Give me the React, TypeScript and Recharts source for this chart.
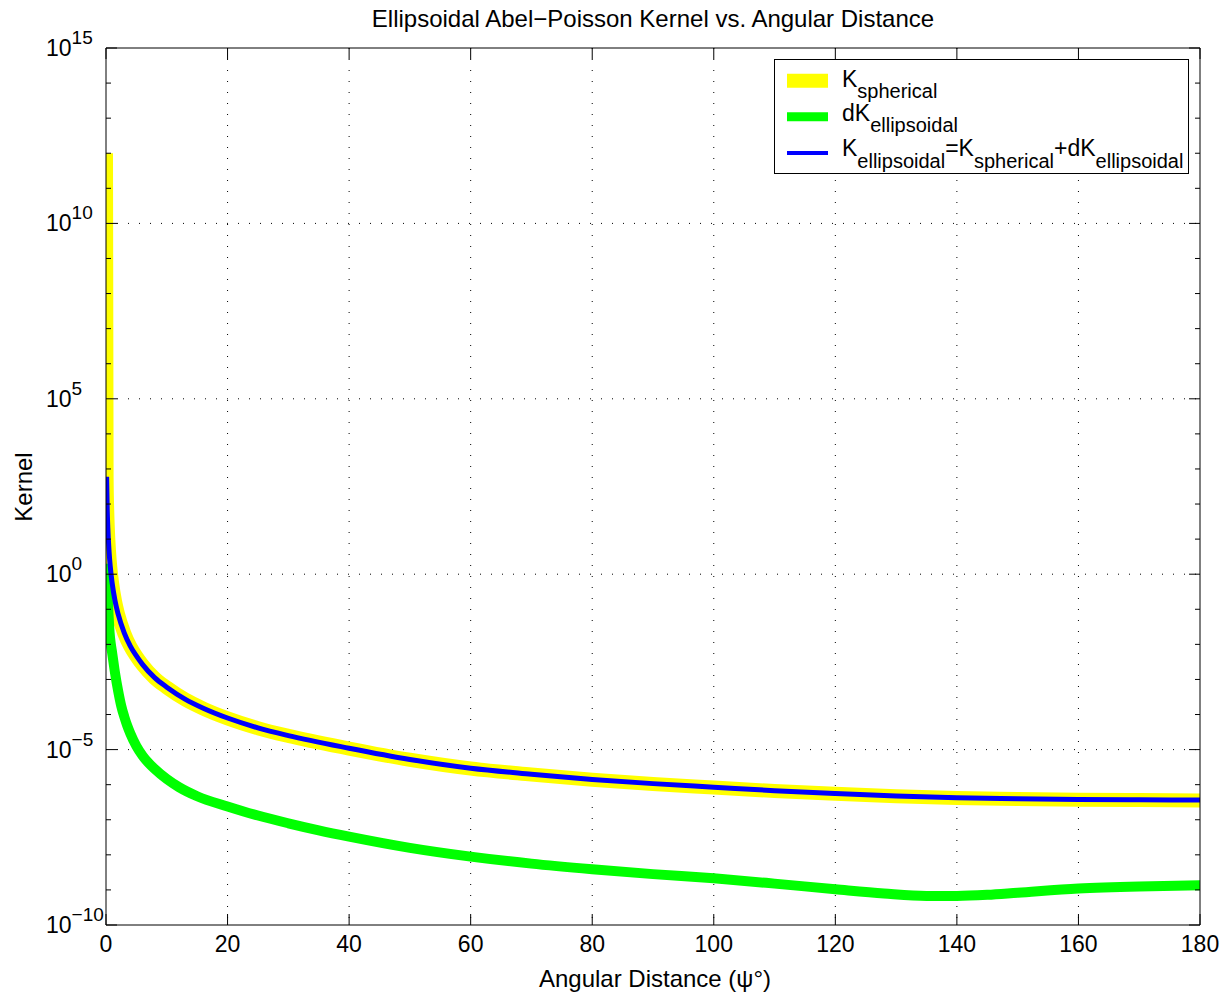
import React from 'react';
import { LineChart, Line, XAxis, YAxis, CartesianGrid, Legend } from 'recharts';

// angular distance in degrees, kernel values given as powers of ten
const sphericalAngles = [0, 0.1, 0.2, 0.3, 0.5, 0.7, 1, 1.5, 2, 3, 4, 5, 6, 8, 10, 13, 16, 20, 25, 30, 40, 50, 60, 70, 80, 90, 100, 110, 120, 130, 140, 150, 160, 170, 180];
const sphericalExponents = [12, 2.75, 1.83, 1.31, 0.65, 0.21, -0.25, -0.78, -1.15, -1.68, -2.06, -2.34, -2.58, -2.96, -3.23, -3.57, -3.83, -4.11, -4.39, -4.61, -4.97, -5.29, -5.54, -5.71, -5.86, -5.98, -6.08, -6.18, -6.26, -6.33, -6.38, -6.41, -6.43, -6.44, -6.45];

const deltaAngles = [0.1, 0.2, 0.3, 0.45, 0.6, 0.8, 1, 1.5, 2, 2.5, 3, 3.5, 4, 5, 6, 7, 8, 10, 12, 15, 20, 25, 30, 35, 40, 50, 60, 70, 80, 90, 100, 110, 120, 128, 135, 140, 145, 150, 160, 170, 180];
const deltaExponents = [0.3, -0.3, -0.75, -1.25, -1.69, -2.0, -2.23, -2.83, -3.33, -3.75, -4.06, -4.32, -4.54, -4.9, -5.17, -5.38, -5.55, -5.84, -6.07, -6.33, -6.62, -6.88, -7.1, -7.3, -7.48, -7.8, -8.05, -8.25, -8.41, -8.55, -8.67, -8.82, -8.98, -9.1, -9.17, -9.17, -9.14, -9.08, -8.96, -8.9, -8.87];

const ellipsoidalAngles = [0.1, 0.2, 0.3, 0.5, 0.7, 1, 1.5, 2, 3, 4, 5, 6, 8, 10, 13, 16, 20, 25, 30, 40, 50, 60, 70, 80, 90, 100, 110, 120, 130, 140, 150, 160, 170, 180];
const ellipsoidalExponents = [2.78, 1.85, 1.33, 0.66, 0.22, -0.24, -0.77, -1.14, -1.67, -2.05, -2.33, -2.57, -2.95, -3.22, -3.56, -3.82, -4.1, -4.38, -4.6, -4.96, -5.28, -5.53, -5.7, -5.85, -5.97, -6.07, -6.17, -6.25, -6.32, -6.37, -6.4, -6.42, -6.43, -6.44];

const xTicks = [0, 20, 40, 60, 80, 100, 120, 140, 160, 180];
const xGridValues = [20, 40, 60, 80, 100, 120, 140, 160];
const yDecadeExponents = [-10, -9, -8, -7, -6, -5, -4, -3, -2, -1, 0, 1, 2, 3, 4, 5, 6, 7, 8, 9, 10, 11, 12, 13, 14, 15];
const yLabelledExponents = [-10, -5, 0, 5, 10, 15];
const yGridExponents = [-5, 0, 5, 10];

const legendLabels: [string, boolean][][] = [
  [['K', false], ['spherical', true]],
  [['dK', false], ['ellipsoidal', true]],
  [['K', false], ['ellipsoidal', true], ['=K', false], ['spherical', true], ['+dK', false], ['ellipsoidal', true]],
];

const toPoints = (xs: number[], es: number[]) => xs.map((x, i) => ({ x, k: Math.pow(10, es[i]) }));

const series = [
  { name: 'spherical', color: '#ffff00', width: 14, legendWidth: 14, data: toPoints(sphericalAngles, sphericalExponents) },
  { name: 'delta', color: '#00ff00', width: 10, legendWidth: 9, data: toPoints(deltaAngles, deltaExponents) },
  { name: 'ellipsoidal', color: '#0000ff', width: 5, legendWidth: 4, data: toPoints(ellipsoidalAngles, ellipsoidalExponents) },
];

const FONT = 23;
const LABEL_FONT = 24;
const SMALL = 19;
const MAJOR = 11;
const MINOR = 5;

const expOf = (v: number) => Math.round(Math.log10(v));
const fmtExp = (e: number) => (e < 0 ? '\u2212' + Math.abs(e) : String(e));

const BottomTick = (props: any) => {
  const { x, y, payload } = props;
  return (
    <g>
      <line x1={x} y1={y} x2={x} y2={y - MAJOR} stroke="#000" />
      <text x={x} y={y + 27} textAnchor="middle" fontSize={FONT} fill="#000">{payload.value}</text>
    </g>
  );
};

const TopTick = (props: any) => {
  const { x, y } = props;
  return <line x1={x} y1={y} x2={x} y2={y + MAJOR} stroke="#000" />;
};

const LeftTick = (props: any) => {
  const { x, y, payload } = props;
  const e = expOf(payload.value);
  const major = yLabelledExponents.includes(e);
  return (
    <g>
      <line x1={x} y1={y} x2={x + (major ? MAJOR : MINOR)} y2={y} stroke="#000" />
      {major && (
        <text x={x - 60} y={y + 8} fontSize={FONT} fill="#000">
          10<tspan fontSize={SMALL} dy={-12}>{fmtExp(e)}</tspan>
        </text>
      )}
    </g>
  );
};

const RightTick = (props: any) => {
  const { x, y, payload } = props;
  const major = yLabelledExponents.includes(expOf(payload.value));
  return <line x1={x} y1={y} x2={x - (major ? MAJOR : MINOR)} y2={y} stroke="#000" />;
};

const LabelText = ({ parts, x, y }: { parts: [string, boolean][]; x: number; y: number }) => {
  let sub = false;
  return (
    <text x={x} y={y} fontSize={FONT} fill="#000">
      {parts.map(([t, isSub], i) => {
        const dy = isSub && !sub ? 11.6 : !isSub && sub ? -11.6 : 0;
        sub = isSub;
        return (
          <tspan key={i} dy={dy} fontSize={isSub ? 20 : FONT}>{t}</tspan>
        );
      })}
    </text>
  );
};

const renderLegend = () => {
  const rowCenters = [21.8, 57.7, 94];
  const rowBaselines = [27.7, 61.5, 97];
  return (
    <svg width={416} height={116} style={{ display: 'block' }}>
      <rect x={0.5} y={0.5} width={414} height={114} fill="#fff" stroke="#000" />
      {series.map((s, i) => (
        <g key={s.name}>
          <line x1={13} x2={54} y1={rowCenters[i]} y2={rowCenters[i]} stroke={s.color} strokeWidth={s.legendWidth} />
          <LabelText parts={legendLabels[i]} x={68} y={rowBaselines[i]} />
        </g>
      ))}
    </svg>
  );
};

export default function App() {
  const yDecades = yDecadeExponents.map((e) => Math.pow(10, e));
  return (
    <div style={{ position: 'absolute', left: 0, top: 0, width: 1228, height: 994, background: '#fff', fontFamily: '"Liberation Sans", Arial, Helvetica, sans-serif' }}>
      <LineChart width={1228} height={994} margin={{ top: 47, right: 27, bottom: 29, left: 46 }}>
        <CartesianGrid
          stroke="#000"
          strokeDasharray="1 10"
          horizontalValues={yGridExponents.map((e) => Math.pow(10, e))}
          verticalValues={xGridValues}
        />
        <XAxis
          dataKey="x"
          type="number"
          domain={[0, 180]}
          ticks={xTicks}
          interval={0}
          allowDataOverflow
          height={40}
          axisLine={{ stroke: '#000' }}
          tickLine={false}
          tickSize={0}
          tickMargin={0}
          tick={BottomTick}
        />
        <XAxis
          xAxisId="top"
          orientation="top"
          dataKey="x"
          type="number"
          domain={[0, 180]}
          ticks={xTicks}
          interval={0}
          allowDataOverflow
          height={1}
          axisLine={{ stroke: '#000' }}
          tickLine={false}
          tickSize={0}
          tickMargin={0}
          tick={TopTick}
        />
        <YAxis
          type="number"
          scale="log"
          domain={[1e-10, 1e15]}
          ticks={yDecades}
          interval={0}
          allowDataOverflow
          width={60}
          axisLine={{ stroke: '#000' }}
          tickLine={false}
          tickSize={0}
          tickMargin={0}
          tick={LeftTick}
        />
        <YAxis
          yAxisId="right"
          orientation="right"
          type="number"
          scale="log"
          domain={[1e-10, 1e15]}
          ticks={yDecades}
          interval={0}
          allowDataOverflow
          width={1}
          axisLine={{ stroke: '#000' }}
          tickLine={false}
          tickSize={0}
          tickMargin={0}
          tick={RightTick}
        />
        {series.map((s) => (
          <Line
            key={s.name}
            data={s.data}
            dataKey="k"
            type="monotone"
            stroke={s.color}
            strokeWidth={s.width}
            strokeLinejoin="round"
            dot={false}
            activeDot={false}
            isAnimationActive={false}
            legendType="line"
          />
        ))}
        <Legend
          layout="horizontal"
          verticalAlign="middle"
          align="center"
          content={renderLegend}
          wrapperStyle={{ position: 'absolute', left: 774, top: 59, width: 416, height: 116 }}
        />
        <text x={653} y={27} textAnchor="middle" fontSize={LABEL_FONT} fill="#000">
          Ellipsoidal Abel{'\u2212'}Poisson Kernel vs. Angular Distance
        </text>
        <text x={655} y={987} textAnchor="middle" fontSize={LABEL_FONT} fill="#000">
          Angular Distance ({'\u03c8\u00b0'})
        </text>
        <text x={32} y={487} textAnchor="middle" fontSize={LABEL_FONT} fill="#000" transform="rotate(-90, 32, 487)">
          Kernel
        </text>
      </LineChart>
    </div>
  );
}
